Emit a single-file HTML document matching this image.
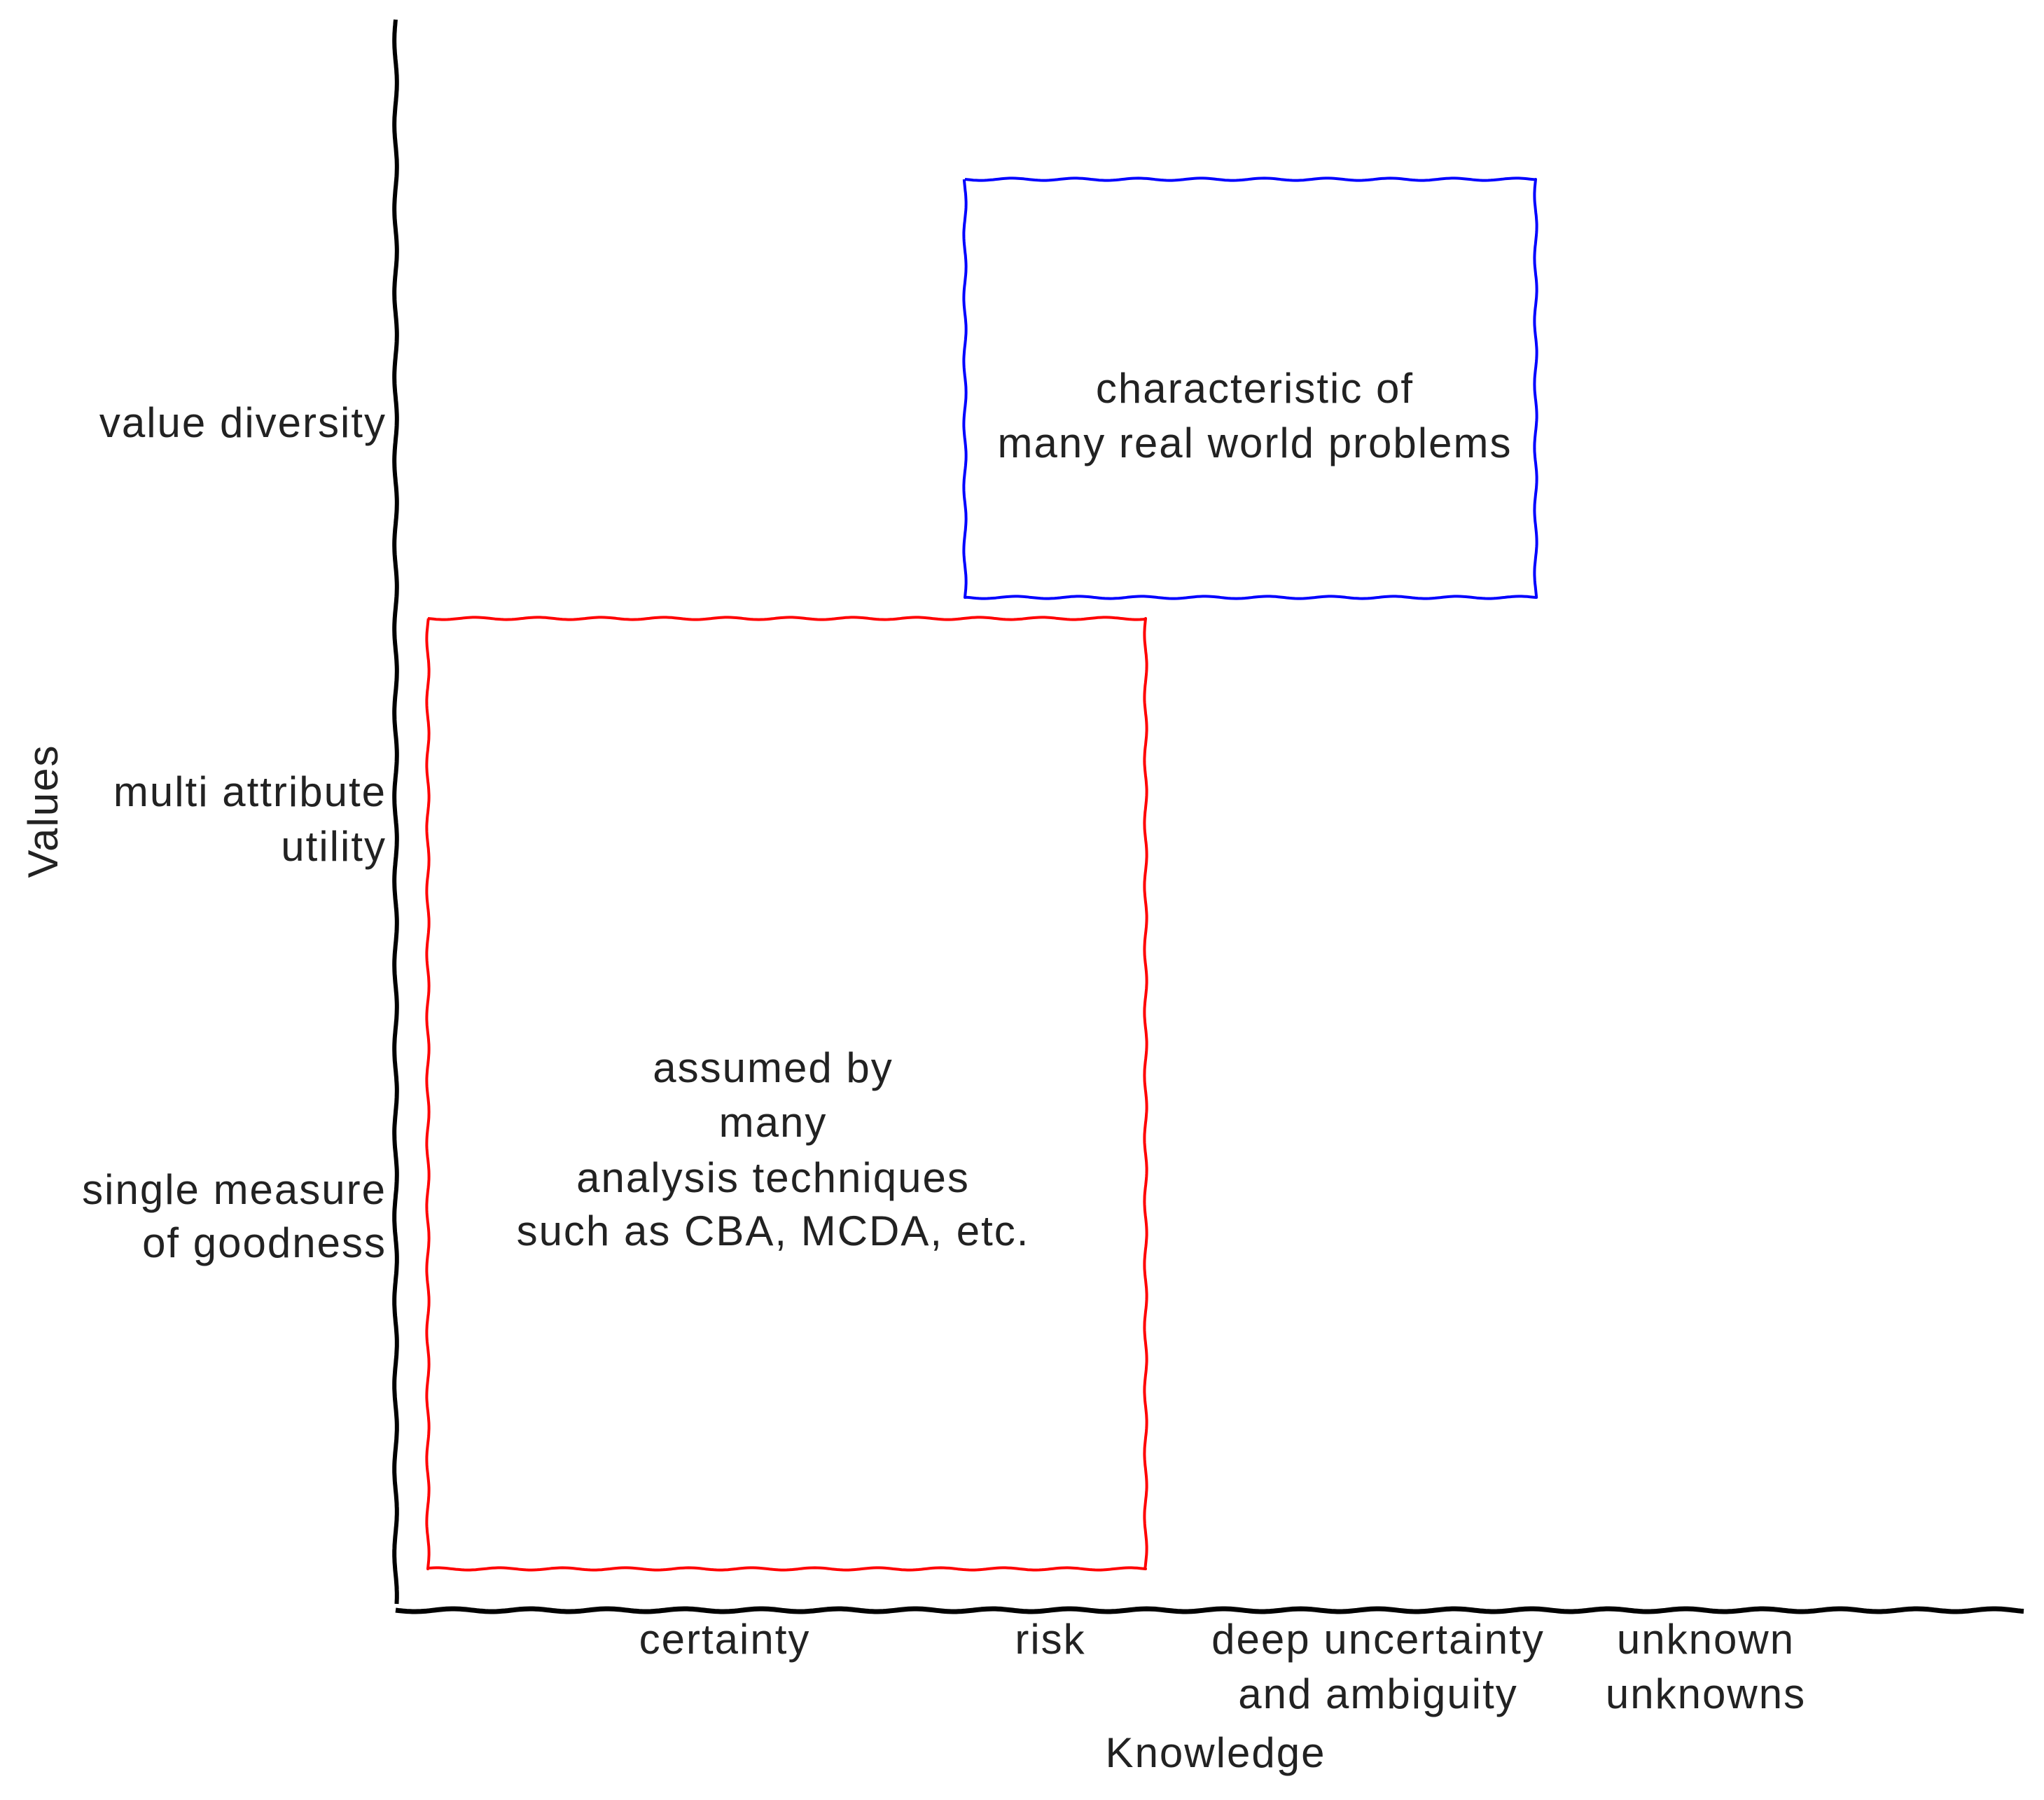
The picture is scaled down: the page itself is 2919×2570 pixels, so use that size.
<!DOCTYPE html>
<html><head><meta charset="utf-8"><style>
html,body{margin:0;padding:0;background:#fff;}
svg{display:block;}
text{font-family:"Liberation Sans",sans-serif;font-size:60px;letter-spacing:2px;fill:#222;}
</style></head><body>
<svg id="s" width="2919" height="2570" viewBox="0 0 2919 2570" xmlns="http://www.w3.org/2000/svg">
<g id="lines"></g>
<text x="552" y="624" text-anchor="end">value diversity</text>
<text x="552" y="1151" text-anchor="end">multi attribute</text>
<text x="552" y="1229" text-anchor="end">utility</text>
<text x="552" y="1719" text-anchor="end">single measure</text>
<text x="552" y="1795" text-anchor="end">of goodness</text>
<text transform="translate(82,1158) rotate(-90)" text-anchor="middle">Values</text>
<text x="1035" y="2361" text-anchor="middle">certainty</text>
<text x="1500" y="2361" text-anchor="middle">risk</text>
<text x="1968" y="2361" text-anchor="middle">deep uncertainty</text>
<text x="1968" y="2439" text-anchor="middle">and ambiguity</text>
<text x="2436" y="2361" text-anchor="middle">unknown</text>
<text x="2436" y="2439" text-anchor="middle">unknowns</text>
<text x="1736" y="2523" text-anchor="middle">Knowledge</text>
<text x="1792" y="575" text-anchor="middle">characteristic of</text>
<text x="1792" y="653" text-anchor="middle">many real world problems</text>
<text x="1104" y="1545" text-anchor="middle">assumed by</text>
<text x="1104" y="1623" text-anchor="middle">many</text>
<text x="1104" y="1702" text-anchor="middle">analysis techniques</text>
<text x="1104" y="1778" text-anchor="middle">such as CBA, MCDA, etc.</text>
</svg>
<script>
function wavy(x1,y1,x2,y2,amp,per){
  var dx=x2-x1,dy=y2-y1,L=Math.hypot(dx,dy),ux=dx/L,uy=dy/L,nx=-uy,ny=ux;
  var n=Math.max(2,Math.round(L/4)),d="";
  for(var i=0;i<=n;i++){var t=i/n*L,o=amp*Math.sin(t/per*2*Math.PI);
    d+=(i?"L":"M")+(x1+ux*t+nx*o).toFixed(1)+","+(y1+uy*t+ny*o).toFixed(1);}
  return d;
}
function add(d,c,w){var p=document.createElementNS("http://www.w3.org/2000/svg","path");
  p.setAttribute("d",d);p.setAttribute("stroke",c);p.setAttribute("stroke-width",w);
  p.setAttribute("fill","none");p.setAttribute("stroke-linejoin","round");
  document.getElementById("lines").appendChild(p);}
function box(x1,y1,x2,y2,c,w){
  var a=1.6,p=90;
  add(wavy(x1,y1,x2,y1,a,p)+wavy(x2,y1,x2,y2,a,p).replace("M","L")+
      wavy(x2,y2,x1,y2,a,p).replace("M","L")+wavy(x1,y2,x1,y1,a,p).replace("M","L"),c,w);}
add(wavy(565,28,565,2290,1.8,120),"#000",6);
add(wavy(565,2299,2890,2299,2,110),"#000",7);
box(611,883,1636,2240,"#ff0000",4);
box(1378,256,2193,853,"#0000ff",4);
</script>
</body></html>
